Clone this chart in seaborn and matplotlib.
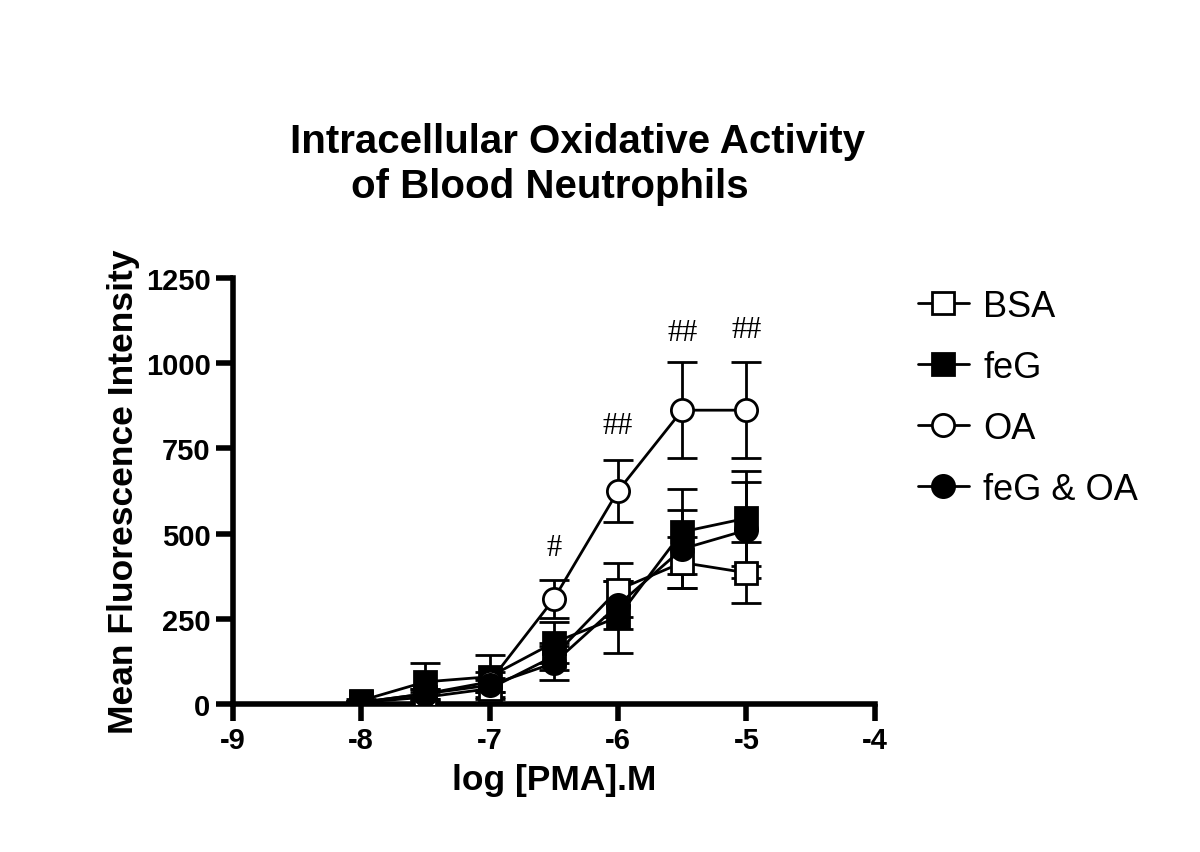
import numpy as np
import pandas as pd
import matplotlib
matplotlib.use("Agg")
import matplotlib.pyplot as plt
from matplotlib.lines import Line2D
import seaborn as sns

# datos
log_pma = [-8, -7.5, -7, -6.5, -6, -5.5, -5]
bsa = [5, 20, 45, 140, 335, 415, 385]
bsa_err = [5, 15, 25, 40, 80, 75, 90]
feg = [10, 65, 80, 180, 255, 505, 545]
feg_err = [5, 55, 65, 60, 105, 125, 140]
oa = [5, 30, 65, 308, 625, 862, 862]
oa_err = [5, 15, 30, 55, 90, 140, 140]
feg_oa = [5, 30, 55, 120, 290, 455, 510]
feg_oa_err = [5, 15, 20, 50, 70, 115, 140]

grupos = ["BSA", "feG", "OA", "feG & OA"]
sig_x = [-6.5, -6, -5.5, -5]
sig_y = [458, 816, 1091, 1100]
sig_txt = ["#", "##", "##", "##"]

negro = {"text.color": "black", "axes.labelcolor": "black",
         "xtick.color": "black", "ytick.color": "black",
         "axes.edgecolor": "black"}
sns.set_style("ticks", rc=negro)
plt.rcParams["font.family"] = ["Liberation Sans", "DejaVu Sans"]
plt.rcParams["axes.unicode_minus"] = False

df = pd.DataFrame({
    "x": log_pma * 4,
    "y": bsa + feg + oa + feg_oa,
    "err": bsa_err + feg_err + oa_err + feg_oa_err,
    "grupo": np.repeat(grupos, len(log_pma)),
})

estilos = {
    "BSA": dict(marker="s", mfc="white"),
    "feG": dict(marker="s", mfc="black"),
    "OA": dict(marker="o", mfc="white"),
    "feG & OA": dict(marker="o", mfc="black"),
}

fig = plt.figure(figsize=(12, 8.53), dpi=100)
ax = fig.add_axes([0.194, 0.1735, 0.535, 0.4995])

for g in grupos:
    d = df[df.grupo == g]
    ax.errorbar(d.x, d.y, yerr=d.err, fmt="none", ecolor="black",
                elinewidth=2, capsize=11, capthick=2, zorder=2)
    sns.lineplot(data=d, x="x", y="y", ax=ax, color="black", lw=2,
                 marker=estilos[g]["marker"], markersize=16,
                 markerfacecolor=estilos[g]["mfc"], markeredgecolor="black",
                 markeredgewidth=2, zorder=3, legend=False)

for xs, ys, t in zip(sig_x, sig_y, sig_txt):
    ax.text(xs, ys, t, ha="center", va="center", fontsize=22,
            family="Liberation Serif")

ax.set_xlim(-9, -4)
ax.set_ylim(0, 1250)
ax.set_xticks([-9, -8, -7, -6, -5, -4])
ax.set_yticks([0, 250, 500, 750, 1000, 1250])
for s in ["left", "bottom"]:
    ax.spines[s].set_linewidth(4)
sns.despine(ax=ax)
ax.tick_params(width=4, length=12, labelsize=21, pad=4)
for lab in ax.get_xticklabels() + ax.get_yticklabels():
    lab.set_fontweight("bold")
ax.set_xlabel("log [PMA].M", fontsize=25.5, fontweight="bold", labelpad=6)
ax.set_ylabel("Mean Fluorescence Intensity", fontsize=25.5, fontweight="bold",
              labelpad=4)

fig.text(0.481, 0.833, "Intracellular Oxidative Activity", ha="center",
         va="center", fontsize=29, fontweight="bold")
fig.text(0.458, 0.781, "of Blood Neutrophils", ha="center", va="center",
         fontsize=29, fontweight="bold")

handles = [Line2D([], [], color="black", lw=2, marker=estilos[g]["marker"],
                  markersize=16, markerfacecolor=estilos[g]["mfc"],
                  markeredgecolor="black", markeredgewidth=2) for g in grupos]
fig.legend(handles, grupos, loc="upper left", bbox_to_anchor=(0.738, 0.698),
           frameon=False, fontsize=26, handlelength=1.4, labelspacing=0.72,
           handletextpad=0.4)

fig.savefig("out.png", dpi=100)
